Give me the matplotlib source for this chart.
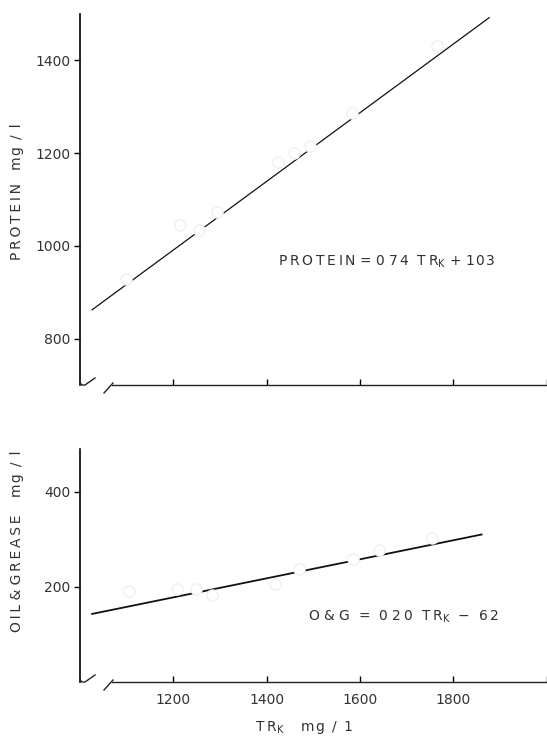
import matplotlib.pyplot as plt
from matplotlib.lines import Line2D

plt.rcParams['font.family'] = ['DejaVu Sans']

# fitted lines (TR_K range drawn)
fit_x = [1026, 1877]
og_fit_x = [1026, 1861]

# measured points (faint open circles in the original)
protein_x = [1099, 1215, 1255, 1293, 1424, 1458, 1492, 1582, 1765]
protein_y = [929, 1044, 1035, 1072, 1180, 1201, 1215, 1287, 1431]
og_x = [1106, 1207, 1249, 1282, 1417, 1469, 1585, 1641, 1754]
og_y = [191, 195, 195, 184, 206, 238, 259, 277, 302]

x_ticks = [1200, 1400, 1600, 1800, 2000]
x_labels = ['1200', '1400', '1600', '1800', '']
protein_ticks = [800, 1000, 1200, 1400]
og_ticks = [200, 400]

W, H = 547, 742


def spaced(s, sep='\u200a'):
    return sep.join(s)


def style(ax):
    ax.spines['top'].set_visible(False)
    ax.spines['right'].set_visible(False)
    ax.spines['left'].set_linewidth(1.2)
    ax.spines['bottom'].set_linewidth(1.0)
    ax.spines['bottom'].set_color('#222222')
    ax.spines['bottom'].set_bounds(1068, 2000)
    ax.set_xlim(1000, 2000)
    ax.set_xticks(x_ticks)
    ax.tick_params(axis='x', direction='in', length=4, width=1.0, pad=8,
                   labelsize=10, labelcolor='#333333')
    ax.tick_params(axis='y', direction='out', length=4, width=1.0, pad=3,
                   labelsize=10, labelcolor='#333333')
    # axis break marks at the lower left corner (pixel offsets)
    x0, y0 = ax.transAxes.transform((0, 0))
    def seg(pts, lw=1.0):
        xs = [(x0 + dx) / W for dx, dy in pts]
        ys = [(y0 + dy) / H for dx, dy in pts]
        fig.add_artist(Line2D(xs, ys, color='#222222', lw=lw,
                              transform=fig.transFigure))
    seg([(0, 3), (1.5, 0), (5, 0), (15, 7)])
    seg([(24, -8), (33, 2)])


fig = plt.figure(figsize=(W / 100, H / 100), dpi=100)
ax1 = fig.add_axes([80 / W, 1 - 385 / H, 466.5 / W, 371 / H])
ax2 = fig.add_axes([80 / W, 1 - 682 / H, 466.5 / W, 233 / H])

ts = '\u2009'

# protein panel
style(ax1)
ax1.set_ylim(700, 1500)
ax1.set_yticks(protein_ticks)
ax1.set_xticklabels([])
ax1.plot(fit_x, [0.74 * v + 103 for v in fit_x], color='#111111', lw=0.9)
ax1.plot(protein_x, protein_y, 'o', ms=8, mfc='white', mec='#f0f0f0',
         mew=1.0, zorder=3)
ax1.text(1424, 966, spaced('PROTEIN', ts) + ' = 0 ' + spaced('74') + '  '
         + spaced('TR', ts) + '$_{\\mathregular{K}}$ + ' + spaced('103'),
         fontsize=10, color='#333333', va='center', ha='left')
ax1.set_ylabel(spaced('PROTEIN', ts) + '   ' + spaced('mg / l'), fontsize=10,
               color='#333333')
ax1.yaxis.set_label_coords(-0.12, 0.52)

# oil & grease panel
style(ax2)
ax2.set_ylim(0, 490)
ax2.set_yticks(og_ticks)
ax2.set_xticklabels(x_labels)
ax2.plot(og_fit_x, [0.20 * v - 62 for v in og_fit_x], color='#111111', lw=1.3)
ax2.plot(og_x, og_y, 'o', ms=8, mfc='white', mec='#f0f0f0', mew=1.0, zorder=3)
ax2.text(1488, 138, 'O & G  =  0 ' + spaced('20', ts) + '  ' + spaced('TR', ts)
         + '$_{\\mathregular{K}}$  \u2212  ' + spaced('62', ts),
         fontsize=10, color='#333333', va='center', ha='left')
ax2.set_ylabel(spaced('OIL', ts) + ' & ' + spaced('GREASE', ts) + '    '
               + spaced('mg / l'), fontsize=10, color='#333333')
ax2.yaxis.set_label_coords(-0.12, 0.605)
ax2.set_xlabel(spaced('TR', ts) + '$_{\\mathregular{K}}$    ' + spaced('mg / 1'),
               fontsize=10, color='#333333')
ax2.xaxis.set_label_coords(0.48, -0.16)

fig.savefig('out.png', dpi=100)
